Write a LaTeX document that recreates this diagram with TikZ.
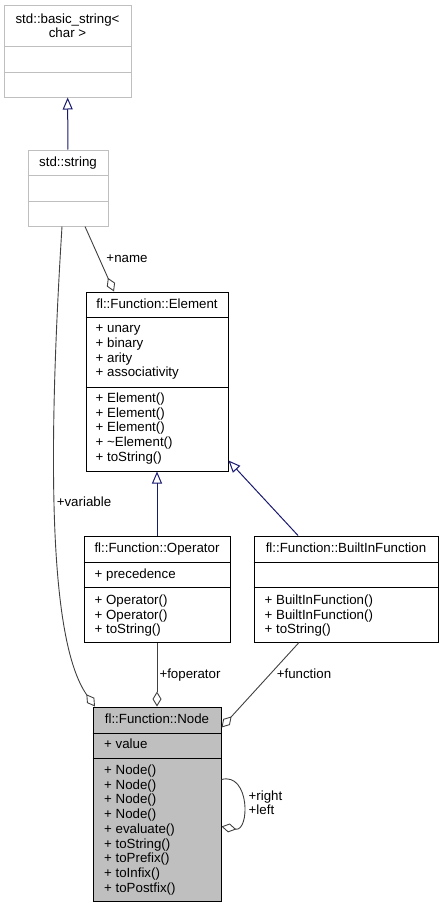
\documentclass[tikz,border=0pt]{standalone}
\usepackage{fontspec}
\setmainfont{Liberation Sans}
\usetikzlibrary{arrows.meta}

\definecolor{edgeblue}{HTML}{191970}
\definecolor{edgegrey}{HTML}{404040}
\definecolor{boxgrey}{HTML}{BFBFBF}
\newcommand{\umlfont}{\fontsize{13.3}{14.7}\selectfont}

\tikzstyle{cls}=[draw=black,line width=1pt,fill=white,inner sep=0pt]
\tikzstyle{ext cls}=[cls,draw=boxgrey]
\tikzstyle{cur cls}=[cls,fill=boxgrey]
\tikzstyle{title}=[anchor=base,inner sep=0pt,font=\umlfont]
\tikzstyle{member}=[anchor=base west,inner sep=0pt,font=\umlfont]
\tikzstyle{role}=[anchor=base,inner sep=0pt,font=\umlfont]
\tikzstyle{inherit}=[draw=edgeblue,line width=1pt,-{Triangle[open,length=12pt,width=10pt]}]
\tikzstyle{aggr}=[draw=edgegrey,line width=0.9pt,{Diamond[open,length=15pt,width=9pt]}-]

\begin{document}
\begin{tikzpicture}[x=1pt,y=-1pt]
    \useasboundingbox (0,0) rectangle (441,907);

    % class boxes
    \node[ext cls,minimum width=127pt,minimum height=91pt] (bstr) at (67.5,51.5) {};
    \node[ext cls,minimum width=80pt,minimum height=76pt] (str) at (68,188) {};
    \node[cls,minimum width=142pt,minimum height=179pt] (elem) at (157,381.5) {};
    \node[cls,minimum width=146pt,minimum height=106pt] (oper) at (157,589) {};
    \node[cls,minimum width=184pt,minimum height=106pt] (bif) at (346,589) {};
    \node[cur cls,minimum width=128pt,minimum height=194pt] (fnode) at (157,804) {};

    \foreach \name/\y in {bstr/47, bstr/72, str/175, str/201}
        \draw[boxgrey,line width=1pt] (\name.west |- 0,\y) -- (\name.east |- 0,\y);
    \foreach \name/\y in {elem/317, elem/387, oper/562, oper/587, bif/562, bif/587, fnode/733, fnode/758}
        \draw[black,line width=1pt] (\name.west |- 0,\y) -- (\name.east |- 0,\y);

    % titles
    \node[title] (bstr-t1) at (67.5,23.5) {std::basic\_string<};
    \node[title] (bstr-t2) at (67.5,37.5) {char >};
    \node[title] (str-t) at (68,166.5) {std::string};
    \node[title] (elem-t) at (157,308.5) {fl::Function::Element};
    \node[title] (oper-t) at (157,552.5) {fl::Function::Operator};
    \node[title] (bif-t) at (346,552.5) {fl::Function::BuiltInFunction};
    \node[title] (fnode-t) at (157,723.5) {fl::Function::Node};

    % members
    \foreach \m [count=\i] in {unary, binary, arity, associativity}
        \node[member] (elem-a\i) at (95.5,{318+14.7*\i}) {+ \m};
    \foreach \m [count=\i] in {Element(), Element(), Element(), \textasciitilde Element(), toString()}
        \node[member] (elem-m\i) at (95.5,{387.8+14.7*\i}) {+ \m};
    \node[member] (oper-a1) at (94.5,578.5) {+ precedence};
    \foreach \m [count=\i] in {Operator(), Operator(), toString()}
        \node[member] (oper-m\i) at (94.5,{589.8+14.7*\i}) {+ \m};
    \foreach \m [count=\i] in {BuiltInFunction(), BuiltInFunction(), toString()}
        \node[member] (bif-m\i) at (264.5,{589.8+14.7*\i}) {+ \m};
    \node[member] (fnode-a1) at (104,748.5) {+ value};
    \foreach \m [count=\i] in {Node(), Node(), Node(), Node(), evaluate(), toString(), toPrefix(), toInfix(), toPostfix()}
        \node[member] (fnode-m\i) at (104,{759.8+14.7*\i}) {+ \m};

    % generalisation
    \draw[inherit] (str) -- (bstr);
    \draw[inherit] (oper) -- (elem);
    \draw[inherit] ([xshift=-48pt]bif.north) -- ([yshift=11pt]elem.south east);

    % aggregation
    \draw[aggr] ([xshift=-62pt]fnode.north) .. controls (48,640) and (48,450) .. ([xshift=-6pt]str.south);
    \draw[aggr] ([xshift=-43pt]elem.north) -- ([xshift=17pt]str.south);
    \draw[aggr] (fnode.north) -- (oper.south);
    \draw[aggr] ([yshift=-21pt]fnode.north east) -- ([xshift=-47pt]bif.south);
    \draw[aggr] ([yshift=-120pt]fnode.north east) .. controls (250,832) and (250,772) .. ([yshift=-73pt]fnode.north east);

    % roles
    \node[role] (r-var) at (84,506.5) {+variable};
    \node[role] (r-name) at (127,262.5) {+name};
    \node[role] (r-fop) at (190,678.5) {+foperator};
    \node[role] (r-fun) at (304,678.5) {+function};
    \node[member] (r-right) at (248.5,800.5) {+right};
    \node[member] (r-left) at (248.5,814.5) {+left};
\end{tikzpicture}
\end{document}
